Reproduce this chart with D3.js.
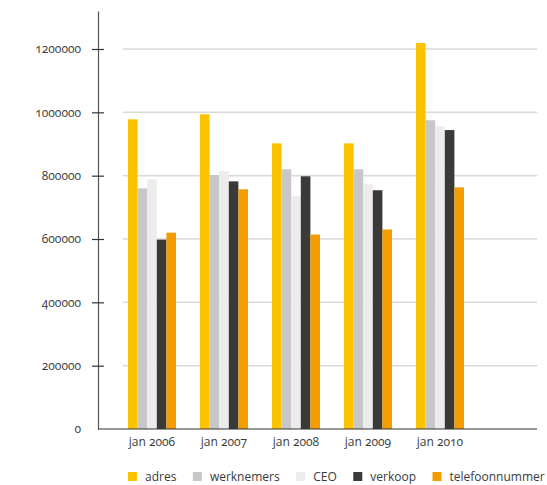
<!DOCTYPE html>
<html>
<head>
<meta charset="utf-8">
<script src="https://cdn.jsdelivr.net/npm/d3@7"></script>
<style>
  body { margin: 0; background: #fff; }
  text { font-family: "Open Sans", Lato, sans-serif; fill: #3a3a3a; font-variant-numeric: oldstyle-nums; }
</style>
</head>
<body>
<div id="vis"></div>
<script>
// data
const YEARS = ["jan 2006", "jan 2007", "jan 2008", "jan 2009", "jan 2010"];
const SERIES = ["adres", "werknemers", "CEO", "verkoop", "telefoonnummer"];
const COLORS = ["#fdc300", "#c6c7c6", "#ececec", "#3a3a39", "#f39c00"];
const ADRES = [978000, 994000, 902000, 902000, 1219000];
const WERKNEMERS = [760000, 802000, 820000, 820000, 975000];
const CEO = [788000, 814000, 735000, 773000, 956000];
const VERKOOP = [598000, 782000, 798000, 754000, 944000];
const TELEFOON = [620000, 757000, 614000, 630000, 763000];
const Y_TICKS = [0, 200000, 400000, 600000, 800000, 1000000, 1200000];

const VALUES = [ADRES, WERKNEMERS, CEO, VERKOOP, TELEFOON];

//frame
const FRAME_WIDTH = 547;
const FRAME_HEIGHT = 485;
const AXIS_X = 98;
const BASE_Y = 429;
const TOP_Y = 11;
const RIGHT_X = 537;

const FRAME = d3.select("#vis")
                .append("svg")
                  .attr("width", FRAME_WIDTH)
                  .attr("height", FRAME_HEIGHT);

//scales
const Y_SCALE = d3.scaleLinear()
                    .domain([0, 1320000])
                    .range([BASE_Y, TOP_Y]);

const X_SCALE = d3.scaleBand()
                    .domain(YEARS)
                    .range([116, 476])
                    .paddingInner(1 / 3)
                    .paddingOuter(1 / 6);

const S_SCALE = d3.scaleBand()
                    .domain(SERIES)
                    .range([0, X_SCALE.bandwidth()]);

const color = d3.scaleOrdinal().domain(SERIES).range(COLORS);

//gridlines
FRAME.append("g")
  .selectAll("line")
  .data(Y_TICKS.filter(d => d > 0))
  .enter()
  .append("line")
    .attr("x1", 123)
    .attr("x2", RIGHT_X)
    .attr("y1", d => Y_SCALE(d))
    .attr("y2", d => Y_SCALE(d))
    .attr("stroke", "#d9d9d9")
    .attr("stroke-width", 1.5);

//bars
const rows = [];
YEARS.forEach((y, i) => {
  SERIES.forEach((s, j) => {
    rows.push({year: y, series: s, value: VALUES[j][i]});
  });
});

FRAME.append("g")
  .selectAll("rect")
  .data(rows)
  .enter()
  .append("rect")
    .attr("x", d => X_SCALE(d.year) + S_SCALE(d.series))
    .attr("y", d => Y_SCALE(d.value))
    .attr("width", S_SCALE.bandwidth())
    .attr("height", d => BASE_Y - Y_SCALE(d.value))
    .attr("fill", d => color(d.series));

//y axis
const yAxis = FRAME.append("g")
  .attr("transform", "translate(" + AXIS_X + ",0)")
  .call(d3.axisLeft(Y_SCALE).tickValues(Y_TICKS).tickSize(6).tickSizeOuter(0).tickPadding(11)
          .tickFormat(d3.format("d")));
yAxis.select(".domain").attr("stroke", "#555").attr("stroke-width", 1.2);
yAxis.selectAll(".tick line").attr("x1", -6).attr("x2", 6).attr("stroke", "#333").attr("stroke-width", 1.2);
yAxis.selectAll(".tick").filter(d => d === 0).select("line").remove();
yAxis.selectAll("text").attr("font-size", 12).attr("font-family", null).style("fill", "#3a3a3a");

//x axis
FRAME.append("line")
  .attr("x1", AXIS_X)
  .attr("x2", RIGHT_X)
  .attr("y1", BASE_Y)
  .attr("y2", BASE_Y)
  .attr("stroke", "#333")
  .attr("stroke-width", 1.2);

FRAME.append("g")
  .selectAll("text")
  .data(YEARS)
  .enter()
  .append("text")
    .attr("x", d => X_SCALE(d) + X_SCALE.bandwidth() / 2)
    .attr("y", 446)
    .attr("text-anchor", "middle")
    .attr("font-size", 12)
    .text(d => d);

//legend
const legend = FRAME.append("g").attr("transform", "translate(128,472)");
let lx = 0;
SERIES.forEach((s, i) => {
  const item = legend.append("g").attr("transform", "translate(" + lx + ",0)");
  item.append("rect")
    .attr("width", 9)
    .attr("height", 9)
    .attr("fill", COLORS[i]);
  const t = item.append("text")
    .attr("x", 17)
    .attr("y", 9)
    .attr("font-size", 12)
    .text(s);
  lx += 17 + t.node().getComputedTextLength() + 16.5;
});
</script>
</body>
</html>
